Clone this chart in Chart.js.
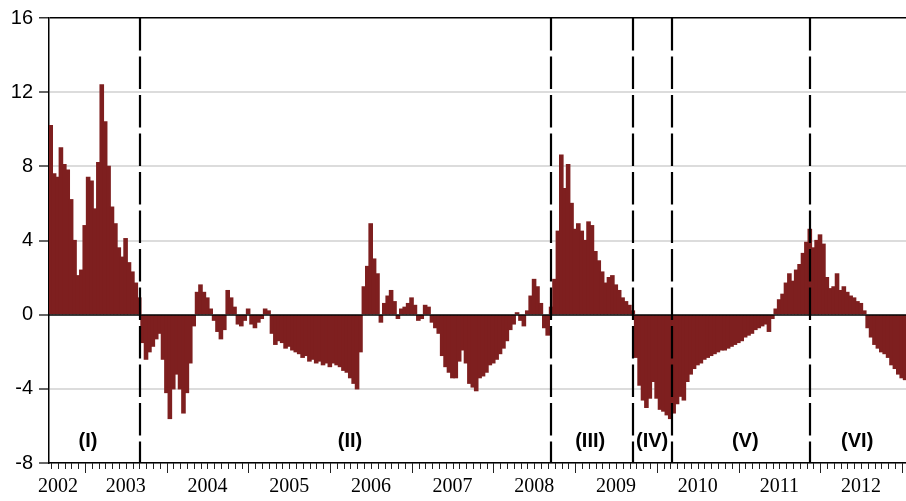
<!DOCTYPE html>
<html>
<head>
<meta charset="utf-8">
<script src="https://cdn.jsdelivr.net/npm/chart.js@4.4.1/dist/chart.umd.min.js"></script>
<style>
  html, body { margin: 0; padding: 0; background: #fff; }
  #wrap { position: relative; width: 906px; height: 501px; }
</style>
</head>
<body>
<div id="wrap"><canvas id="c"></canvas></div>
<script>
// Time axis (fractional years) and sampling of the series: two observations per month
const axisStart = 2002.56;
const axisEnd = 2013.05;
const obsPerYear = 24;

// Series values, one array per regime
const regimeI = [10.2, 7.6, 7.4, 9.0, 8.1, 7.8, 6.2, 4.0, 2.1, 2.4, 4.8, 7.4, 7.2, 5.7, 8.2, 12.4, 10.4, 8.0, 5.8, 4.9, 3.6, 3.1, 4.1, 2.8, 2.3, 1.7, 0.9];
const regimeII = [
  -1.5, -2.4, -2.0, -1.7, -1.3, -1.0, -2.4, -4.2, -5.6, -4.0, -3.2, -4.0, -5.3, -4.2, -2.6, -0.6, 1.2, 1.6, 1.2, 0.9,
  0.3, -0.3, -0.9, -1.3, -0.8, 1.3, 0.9, 0.4, -0.5, -0.6, -0.3, 0.3, -0.5, -0.7, -0.4, -0.2, 0.3, 0.2, -1.0, -1.6,
  -1.4, -1.5, -1.8, -1.7, -1.9, -2.0, -2.1, -2.3, -2.2, -2.5, -2.4, -2.6, -2.5, -2.7, -2.6, -2.8, -2.6, -2.7, -2.8, -3.0,
  -3.1, -3.4, -3.7, -4.0, -2.0, 1.5, 2.6, 4.9, 3.0, 2.2, -0.4, 0.6, 1.0, 1.3, 0.7, -0.2, 0.3, 0.4, 0.6, 0.9,
  0.5, -0.3, -0.2, 0.5, 0.4, -0.4, -0.7, -1.0, -2.2, -2.8, -3.1, -3.4, -3.4, -2.5, -1.9, -2.6, -3.7, -3.9, -4.1, -3.4,
  -3.3, -3.1, -2.7, -2.6, -2.4, -2.1, -1.8, -1.4, -0.8, -0.5, 0.1, -0.3, -0.6, 0.2, 1.0, 1.9, 1.5, 0.6, -0.7, -1.1
];
const regimeIII = [0.4, 1.9, 4.5, 8.6, 6.8, 8.1, 6.0, 4.6, 4.9, 4.5, 4.0, 5.0, 4.8, 3.4, 2.9, 2.3, 1.7, 2.0, 2.1, 1.6, 1.3, 0.9, 0.7, 0.5, 0.2];
const regimeIV = [-2.3, -3.8, -4.6, -5.0, -4.5, -3.6, -4.5, -5.1, -5.2, -5.4, -5.6];
const regimeV = [
  -5.3, -4.8, -4.4, -4.6, -3.6, -3.2, -2.9, -2.7, -2.6, -2.4, -2.3, -2.2, -2.1, -2.0, -1.9, -1.9, -1.8, -1.7, -1.6, -1.5,
  -1.4, -1.2, -1.1, -1.0, -0.8, -0.7, -0.6, -0.5, -0.9, -0.2, 0.3, 0.8, 1.1, 1.7, 2.2, 1.8, 2.4, 2.7, 3.3, 3.9, 4.6
];
const regimeVI = [3.6, 4.0, 4.3, 3.8, 2.0, 1.4, 1.5, 2.2, 1.3, 1.5, 1.2, 1.0, 0.9, 0.7, 0.6, 0.2, -0.7, -1.2, -1.6, -1.8, -2.0, -2.1, -2.3, -2.7, -2.9, -3.2, -3.4, -3.5];

// Regime boundaries (fractional years) and their names
const regimeBreaks = [2003.673, 2008.706, 2009.71, 2010.188, 2011.878];
const regimeNames = ['(I)', '(II)', '(III)', '(IV)', '(V)', '(VI)'];
const regimeNameAt = [2003.037, 2006.245, 2009.184, 2009.943, 2011.082, 2012.453];
const regimeNameLevel = -6.85;

// Axis labels
const yearLabels = ['2002', '2003', '2004', '2005', '2006', '2007', '2008', '2009', '2010', '2011', '2012'];
const yearLabelAt = [2002.67, 2003.5, 2004.5, 2005.5, 2006.5, 2007.5, 2008.5, 2009.5, 2010.5, 2011.5, 2012.5];
const yTicks = [-8, -4, 0, 4, 8, 12, 16];

const series = [].concat(regimeI, regimeII, regimeIII, regimeIV, regimeV, regimeVI);
const points = series.map((v, i) => ({ x: axisStart + (i + 0.5) / obsPerYear, y: v }));

const BAR = '#7e1f1f';

const overlay = {
  id: 'overlay',
  afterDatasetsDraw(chart) {
    const { ctx, chartArea: a, scales: { x, y } } = chart;
    ctx.save();

    // zero line over the bars
    const y0 = Math.round(y.getPixelForValue(0));
    ctx.strokeStyle = '#000';
    ctx.lineWidth = 1.6;
    ctx.beginPath();
    ctx.moveTo(a.left, y0);
    ctx.lineTo(a.right, y0);
    ctx.stroke();

    // dashed regime boundaries
    ctx.lineWidth = 2.2;
    ctx.setLineDash([32.5, 6]);
    regimeBreaks.forEach(t => {
      const px = Math.round(x.getPixelForValue(t));
      ctx.beginPath();
      ctx.moveTo(px, a.top);
      ctx.lineTo(px, a.bottom);
      ctx.stroke();
    });
    ctx.setLineDash([]);

    // regime names
    ctx.fillStyle = '#000';
    ctx.font = 'bold 20px "Liberation Sans", Arial, sans-serif';
    ctx.textAlign = 'center';
    ctx.textBaseline = 'middle';
    const ly = y.getPixelForValue(regimeNameLevel);
    regimeNames.forEach((n, i) => ctx.fillText(n, x.getPixelForValue(regimeNameAt[i]), ly));

    // monthly tick marks, longer at each year start
    ctx.strokeStyle = '#222';
    ctx.lineWidth = 1;
    const m0 = Math.ceil(axisStart * 12), m1 = Math.floor(axisEnd * 12);
    for (let m = m0; m <= m1; m++) {
      const px = Math.round(x.getPixelForValue(m / 12)) + 0.5;
      const len = (m % 12 === 0) ? 10 : 6;
      ctx.beginPath();
      ctx.moveTo(px, a.bottom);
      ctx.lineTo(px, a.bottom + len);
      ctx.stroke();
    }
    ctx.restore();
  }
};

new Chart(document.getElementById('c'), {
  type: 'bar',
  data: {
    datasets: [{
      data: points,
      backgroundColor: BAR,
      borderWidth: 0,
      inflateAmount: 0.6,
      barPercentage: 1.0,
      categoryPercentage: 1.0
    }]
  },
  options: {
    responsive: true,
    maintainAspectRatio: false,
    animation: false,
    layout: { padding: { top: 13, right: 0, left: 0, bottom: 0 } },
    plugins: { legend: { display: false }, tooltip: { enabled: false } },
    scales: {
      x: {
        type: 'linear',
        min: axisStart,
        max: axisEnd,
        offset: false,
        border: { display: true, color: '#000', width: 1.5 },
        grid: { display: true, drawOnChartArea: false, drawTicks: true, tickLength: 10, color: 'rgba(0,0,0,0)' },
        afterBuildTicks(scale) { scale.ticks = yearLabelAt.map(v => ({ value: v })); },
        afterFit(scale) { scale.height = 38; scale.paddingLeft = 0; scale.paddingRight = 0; },
        ticks: {
          autoSkip: false,
          maxRotation: 0,
          minRotation: 0,
          padding: 2,
          color: '#000',
          font: { family: '"Liberation Serif", "Times New Roman", serif', size: 20 },
          callback: (v, i) => yearLabels[i]
        }
      },
      y: {
        min: -8,
        max: 16,
        afterBuildTicks(scale) { scale.ticks = yTicks.map(v => ({ value: v })); },
        afterFit(scale) { scale.width = 49; },
        border: { display: true, color: '#000', width: 1.5 },
        grid: {
          color: ctx => ctx.tick && ctx.tick.value === 16 ? '#000' : (ctx.tick && ctx.tick.value === 0 ? 'rgba(0,0,0,0)' : '#dcdcdc'),
          lineWidth: ctx => ctx.tick && ctx.tick.value === 16 ? 1.5 : 2,
          tickColor: '#333',
          tickWidth: 1.5,
          tickLength: 10,
          drawTicks: true
        },
        ticks: {
          padding: 6,
          color: '#000',
          font: { family: '"Liberation Sans", Arial, sans-serif', size: 20 },
          callback: v => String(v)
        }
      }
    }
  },
  plugins: [overlay]
});
</script>
</body>
</html>
